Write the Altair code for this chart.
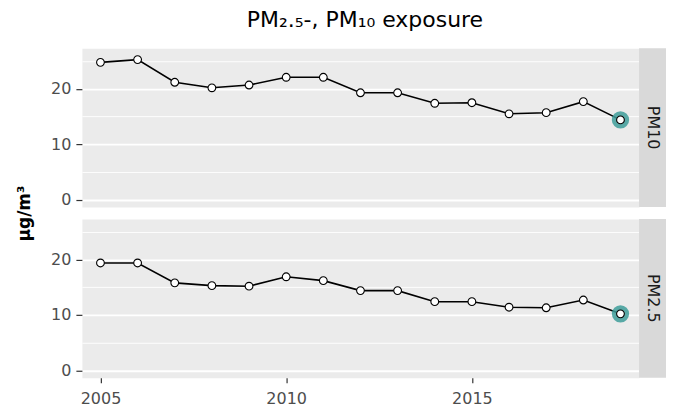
import altair as alt
import pandas as pd

years = list(range(2005, 2020))
pm10 = [24.8, 25.3, 21.2, 20.2, 20.7, 22.1, 22.1, 19.3, 19.3, 17.4, 17.5, 15.5, 15.7, 17.7, 14.4]
pm25 = [19.4, 19.4, 15.8, 15.3, 15.2, 16.9, 16.2, 14.4, 14.4, 12.4, 12.4, 11.4, 11.3, 12.7, 10.2]
panel_names = ["PM10", "PM2.5"]
y_grid = [0, 5, 10, 15, 20, 25]
x_labels = [2005, 2010, 2015]
title_text = "PM₂.₅-, PM₁₀ exposure"
y_title = "µg/m³"

PW, PH, SW = 558, 159, 27
YDOM = [-1.35, 27.35]
XDOM = [2004.5, 2019.5]
FONT = "DejaVu Sans"


def panel(name, values, bottom, top):
    df = pd.DataFrame({"year": years, "value": values})
    last = df.iloc[[-1]]
    xscale = alt.Scale(domain=XDOM, nice=False, zero=False)
    yscale = alt.Scale(domain=YDOM, nice=False, zero=False)
    if bottom:
        xenc = alt.X("year:Q", scale=xscale, title=None,
                     axis=alt.Axis(values=x_labels, format="d", grid=False, domain=False,
                                   labelFontSize=16, labelColor="#4D4D4D", labelFont=FONT,
                                   tickColor="#333333", tickSize=5, tickWidth=1.2,
                                   labelPadding=8))
    else:
        xenc = alt.X("year:Q", scale=xscale, title=None, axis=None)
    yaxis_kw = dict(
        values=y_grid,
        labelExpr="datum.value % 10 === 0 ? datum.label : ''",
        grid=True, gridColor="white",
        gridWidth={"condition": {"test": "datum.value % 10 === 0", "value": 1.8}, "value": 0.9},
        tickColor={"condition": {"test": "datum.value % 10 === 0", "value": "#333333"},
                   "value": "transparent"},
        tickSize=6, tickWidth=1.2, domain=False, labelFontSize=16, labelColor="#4D4D4D",
        labelFont=FONT, labelPadding=5,
    )
    if top:
        yaxis_kw.update(dict(titleY=PH + 6, titleX=-57, titleFontSize=17, titleFont=FONT,
                             titleFontWeight="bold", titleColor="black", titleAngle=-90,
                             titleAlign="center", titleBaseline="middle"))
        yenc = alt.Y("value:Q", scale=yscale, title=y_title, axis=alt.Axis(**yaxis_kw))
    else:
        yenc = alt.Y("value:Q", scale=yscale, title=None, axis=alt.Axis(**yaxis_kw))

    base = alt.Chart(df).encode(x=xenc, y=yenc)
    line = base.mark_line(color="black", strokeWidth=1.6)
    ring = alt.Chart(last).mark_circle(color="#3E9E9A", opacity=0.85, size=300).encode(x=xenc, y=yenc)
    pts = base.mark_point(filled=True, fill="white", stroke="black", strokeWidth=1.1,
                          size=60, opacity=1)

    sdf = pd.DataFrame({"name": [name]})
    sbg = alt.Chart(sdf).mark_rect(color="#D9D9D9").encode(
        x=alt.value(PW), x2=alt.value(PW + SW), y=alt.value(0), y2=alt.value(PH))
    stxt = alt.Chart(sdf).mark_text(angle=90, fontSize=16, color="#1A1A1A", font=FONT,
                                    baseline="middle", align="center").encode(
        x=alt.value(PW + SW / 2), y=alt.value(PH / 2), text="name:N")
    return alt.layer(line, ring, pts, sbg, stxt).properties(width=PW, height=PH)


top_row = panel(panel_names[0], pm10, bottom=False, top=True)
bot_row = panel(panel_names[1], pm25, bottom=True, top=False)

chart = alt.vconcat(top_row, bot_row, spacing=12, bounds="flush").properties(
    title=alt.TitleParams(title_text, fontSize=22, fontWeight="normal", anchor="middle",
                          color="black", font=FONT, offset=16, dx=24),
    padding={"left": 7, "top": 0, "right": 0, "bottom": 0},
).configure_view(fill="#EBEBEB", stroke="transparent")

chart.save("out.html", embed_options={"renderer": "svg", "actions": False})
